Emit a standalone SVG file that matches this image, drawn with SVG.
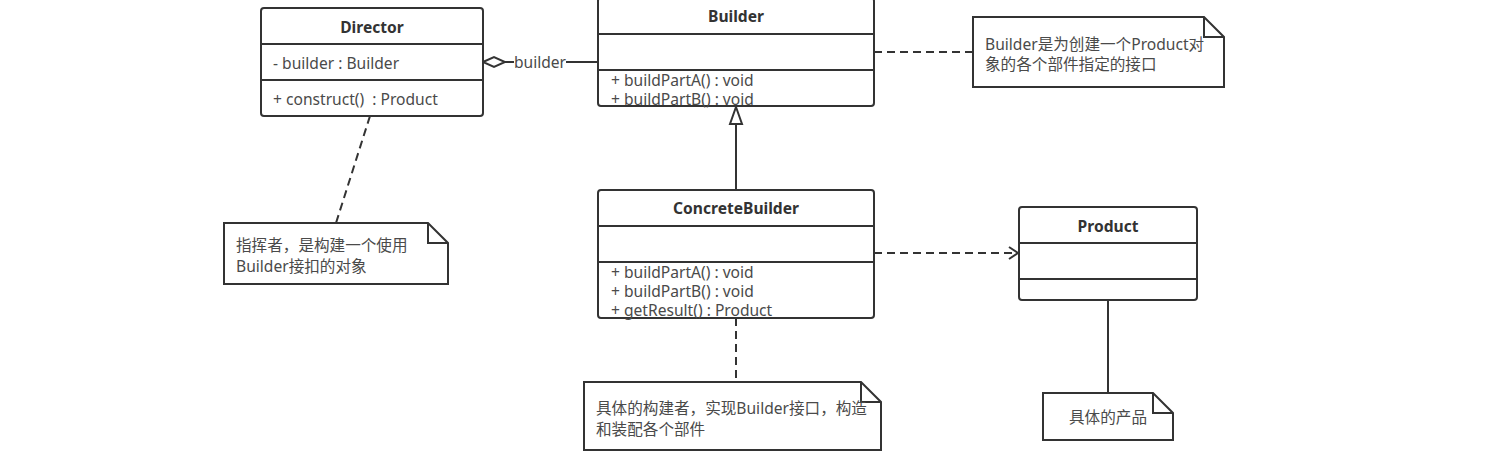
<svg xmlns="http://www.w3.org/2000/svg" width="1496" height="460" viewBox="0 0 1496 460">
<style>
.box{fill:#fff;stroke:#333;stroke-width:2}
.ln{stroke:#333;stroke-width:2;fill:none}
.dash{stroke:#333;stroke-width:2;fill:none;stroke-dasharray:8 5}
.t{font-family:"Noto Sans","Noto Sans CJK SC",sans-serif;font-size:15.6px;fill:#4a4a4a;white-space:pre}
.b{font-weight:bold;text-anchor:middle;fill:#333}
</style>
<defs>
<marker id="open" markerWidth="12" markerHeight="14" refX="10" refY="7" orient="auto" markerUnits="userSpaceOnUse"><path d="M1,1 L10,7 L1,13" fill="none" stroke="#333" stroke-width="2"/></marker>
</defs>
<rect width="1496" height="460" fill="#fff"/>
<g id="connectors">
<path class="ln" d="M505,62 H514 M566,62 H598"/>
<path d="M483,62 L494,57 L505,62 L494,67 Z" fill="#fff" stroke="#333" stroke-width="2"/>
<text class="t" x="540" y="68" text-anchor="middle">builder</text>
<path class="ln" d="M736,124 V190"/>
<path d="M736,107 L742,124 L730,124 Z" fill="#fff" stroke="#333" stroke-width="2"/>
<path class="dash" d="M874,52 H973"/>
<path class="dash" d="M874,253 H1018" marker-end="url(#open)"/>
<path class="dash" d="M370,116 L336,223"/>
<path class="dash" d="M736,318 V382"/>
<path class="ln" d="M1108,300 V393"/>
</g>
<g id="director">
<rect class="box" x="261" y="8" width="222" height="108" rx="3"/>
<path class="ln" d="M261,44 H483 M261,80 H483"/>
<text class="t b" x="372" y="33">Director</text>
<text class="t" x="273" y="69">- builder : Builder</text>
<text class="t" x="273" y="105" xml:space="preserve">+ construct()  : Product</text>
</g>
<g id="builder">
<rect class="box" x="598" y="-2" width="276" height="108" rx="3"/>
<path class="ln" d="M598,34 H874 M598,70 H874"/>
<text class="t b" x="736" y="22">Builder</text>
<text class="t" x="611" y="86">+ buildPartA() : void</text>
<text class="t" x="611" y="105">+ buildPartB() : void</text>
</g>
<g id="concretebuilder">
<rect class="box" x="598" y="190" width="276" height="128" rx="3"/>
<path class="ln" d="M598,226 H874 M598,262 H874"/>
<text class="t b" x="736" y="214">ConcreteBuilder</text>
<text class="t" x="611" y="278">+ buildPartA() : void</text>
<text class="t" x="611" y="297">+ buildPartB() : void</text>
<text class="t" x="611" y="316">+ getResult() : Product</text>
</g>
<g id="product">
<rect class="box" x="1019" y="207" width="178" height="93" rx="3"/>
<path class="ln" d="M1019,243 H1197 M1019,279 H1197"/>
<text class="t b" x="1108" y="232">Product</text>
</g>
<g id="note-builder">
<path class="box" d="M973,17 H1204 L1224,37 V87 H973 Z"/>
<path class="ln" d="M1204,17 V37 H1224"/>
<text class="t" x="985" y="50">Builder是为创建一个Product对</text>
<text class="t" x="985" y="70">象的各个部件指定的接口</text>
</g>
<g id="note-director">
<path class="box" d="M224,223 H428 L448,243 V284 H224 Z"/>
<path class="ln" d="M428,223 V243 H448"/>
<text class="t" x="236" y="251">指挥者，是构建一个使用</text>
<text class="t" x="236" y="272">Builder接扣的对象</text>
</g>
<g id="note-concrete">
<path class="box" d="M584,382 H861 L881,402 V450 H584 Z"/>
<path class="ln" d="M861,382 V402 H881"/>
<text class="t" x="596" y="414">具体的构建者，实现Builder接口，构造</text>
<text class="t" x="596" y="435">和装配各个部件</text>
</g>
<g id="note-product">
<path class="box" d="M1043,393 H1153 L1173,413 V440 H1043 Z"/>
<path class="ln" d="M1153,393 V413 H1173"/>
<text class="t" x="1108" y="423" text-anchor="middle">具体的产品</text>
</g>
</svg>
